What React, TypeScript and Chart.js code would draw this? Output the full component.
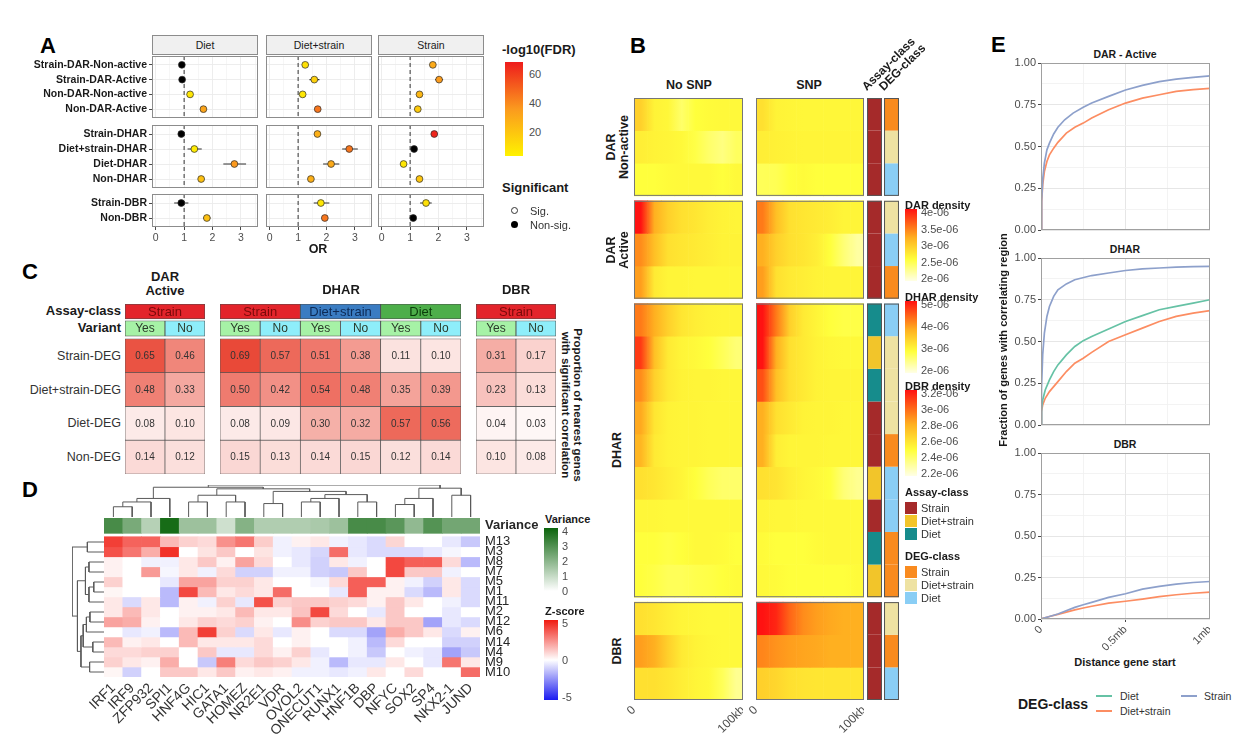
import React, { useEffect, useRef } from 'react';
import { Chart, registerables } from 'chart.js';

Chart.register(...registerables);
const FONT = '"Liberation Sans", Arial, Helvetica, sans-serif';
Chart.defaults.font.family = FONT;
Chart.defaults.color = '#4D4D4D';

/* ============================ DATA ============================ */
// ---- Panel A : odds ratios (rows: DAR group, DHAR group, DBR group) ----
const A_FACETS = ['Diet', 'Diet+strain', 'Strain'];
const A_ROWS_DAR = ['Strain-DAR-Non-active', 'Strain-DAR-Active', 'Non-DAR-Non-active', 'Non-DAR-Active'];
const A_ROWS_DHAR = ['Strain-DHAR', 'Diet+strain-DHAR', 'Diet-DHAR', 'Non-DHAR'];
const A_ROWS_DBR = ['Strain-DBR', 'Non-DBR'];
const A_X_GRID = [0, 0.5, 1, 1.5, 2, 2.5, 3, 3.5];
const A_OR_DIET = [0.92, 0.93, 1.21, 1.68, 0.9, 1.36, 2.77, 1.6, 0.9, 1.8];
const A_LO_DIET = [0.86, 0.84, 1.13, 1.59, 0.85, 1.12, 2.38, 1.52, 0.65, 1.68];
const A_HI_DIET = [0.98, 1.03, 1.29, 1.77, 0.96, 1.62, 3.18, 1.68, 1.15, 1.93];
const A_FDR_DIET = [0.6, 0.5, 8, 32, 0.6, 6, 36, 22, 0.2, 22];
const A_SIG_DIET = [0, 0, 1, 1, 0, 1, 1, 1, 0, 1];
const A_OR_DS = [1.25, 1.57, 1.16, 1.69, 1.68, 2.8, 2.16, 1.45, 1.8, 1.94];
const A_LO_DS = [1.18, 1.4, 1.1, 1.62, 1.58, 2.55, 1.88, 1.38, 1.55, 1.84];
const A_HI_DS = [1.32, 1.75, 1.22, 1.76, 1.78, 3.1, 2.45, 1.52, 2.1, 2.04];
const A_FDR_DS = [10, 16, 8, 45, 28, 45, 30, 28, 8, 45];
const A_SIG_DS = [1, 1, 1, 1, 1, 1, 1, 1, 1, 1];
const A_OR_STRAIN = [1.8, 2.02, 1.33, 1.27, 1.85, 1.14, 0.77, 1.33, 1.56, 1.11];
const A_LO_STRAIN = [1.72, 1.88, 1.25, 1.2, 1.78, 1.08, 0.7, 1.25, 1.35, 1.06];
const A_HI_STRAIN = [1.88, 2.16, 1.41, 1.34, 1.92, 1.2, 0.84, 1.41, 1.76, 1.16];
const A_FDR_STRAIN = [30, 35, 25, 18, 66, 0.5, 8, 20, 10, 0.5];
const A_SIG_STRAIN = [1, 1, 1, 1, 1, 0, 1, 1, 1, 0];
const A_LEGEND_TICKS = [60, 40, 20];

// ---- Panel B : density heatmaps (8 distance bins per row, 0..1 scaled density) ----
const B_BLOCKS = ['DAR\nNon-active', 'DAR\nActive', 'DHAR', 'DBR'];
const B_BLOCK_ROWS = [3, 3, 9, 3];
const B_BINS = ['b1', 'b2', 'b3', 'b4', 'b5', 'b6', 'b7', 'b8'];
const B_X_TICKS = [0, 100];
const B_X_LABELS = ['0', '100kb'];
const B_NOSNP = [
  [0.5, 0.36, 0.34, 0.22, 0.3, 0.32, 0.33, 0.33],
  [0.38, 0.36, 0.35, 0.33, 0.28, 0.22, 0.18, 0.24],
  [0.3, 0.3, 0.32, 0.33, 0.33, 0.33, 0.3, 0.33],
  [1.0, 0.6, 0.5, 0.45, 0.42, 0.38, 0.36, 0.35],
  [0.7, 0.55, 0.45, 0.42, 0.4, 0.38, 0.36, 0.36],
  [0.65, 0.4, 0.35, 0.35, 0.34, 0.34, 0.34, 0.34],
  [0.75, 0.6, 0.5, 0.42, 0.38, 0.36, 0.35, 0.35],
  [0.9, 0.55, 0.4, 0.35, 0.33, 0.3, 0.25, 0.2],
  [0.7, 0.5, 0.4, 0.36, 0.35, 0.35, 0.34, 0.34],
  [0.62, 0.42, 0.36, 0.35, 0.35, 0.34, 0.34, 0.34],
  [0.58, 0.4, 0.36, 0.35, 0.35, 0.34, 0.34, 0.34],
  [0.45, 0.42, 0.38, 0.35, 0.3, 0.25, 0.22, 0.22],
  [0.34, 0.34, 0.33, 0.33, 0.33, 0.33, 0.33, 0.33],
  [0.3, 0.3, 0.28, 0.3, 0.33, 0.33, 0.32, 0.3],
  [0.3, 0.28, 0.25, 0.25, 0.27, 0.28, 0.3, 0.32],
  [0.45, 0.42, 0.38, 0.35, 0.34, 0.33, 0.33, 0.33],
  [0.65, 0.6, 0.5, 0.4, 0.36, 0.34, 0.33, 0.33],
  [0.45, 0.45, 0.42, 0.38, 0.35, 0.33, 0.25, 0.15],
];
const B_SNP = [
  [0.45, 0.36, 0.35, 0.34, 0.34, 0.34, 0.34, 0.34],
  [0.38, 0.37, 0.36, 0.35, 0.35, 0.35, 0.35, 0.35],
  [0.25, 0.26, 0.3, 0.32, 0.3, 0.3, 0.3, 0.3],
  [0.75, 0.55, 0.45, 0.42, 0.4, 0.38, 0.35, 0.35],
  [0.6, 0.5, 0.45, 0.42, 0.38, 0.3, 0.2, 0.12],
  [0.65, 0.45, 0.4, 0.38, 0.36, 0.35, 0.35, 0.35],
  [1.0, 0.75, 0.5, 0.4, 0.35, 0.3, 0.28, 0.28],
  [1.0, 0.6, 0.45, 0.4, 0.36, 0.34, 0.33, 0.33],
  [0.85, 0.55, 0.45, 0.4, 0.36, 0.35, 0.35, 0.35],
  [0.6, 0.45, 0.4, 0.36, 0.35, 0.35, 0.34, 0.34],
  [0.6, 0.38, 0.35, 0.35, 0.35, 0.34, 0.34, 0.34],
  [0.45, 0.43, 0.38, 0.35, 0.33, 0.3, 0.2, 0.15],
  [0.35, 0.34, 0.34, 0.33, 0.33, 0.33, 0.33, 0.33],
  [0.32, 0.3, 0.3, 0.3, 0.32, 0.33, 0.33, 0.33],
  [0.33, 0.32, 0.3, 0.3, 0.3, 0.3, 0.3, 0.32],
  [1.0, 0.95, 0.8, 0.7, 0.65, 0.62, 0.6, 0.6],
  [0.72, 0.68, 0.65, 0.63, 0.62, 0.6, 0.6, 0.6],
  [0.5, 0.48, 0.45, 0.43, 0.42, 0.42, 0.42, 0.42],
];
const B_ASSAY = ['Strain', 'Strain', 'Strain', 'Strain', 'Strain', 'Strain',
  'Diet', 'Diet+strain', 'Diet', 'Strain', 'Strain', 'Diet+strain', 'Strain', 'Diet', 'Diet+strain',
  'Strain', 'Strain', 'Strain'];
const B_DEG = ['Strain', 'Diet+strain', 'Diet', 'Diet+strain', 'Diet', 'Strain',
  'Diet', 'Diet+strain', 'Diet+strain', 'Diet+strain', 'Strain', 'Diet', 'Diet', 'Strain', 'Strain',
  'Diet+strain', 'Strain', 'Diet'];
const B_ANNO_COLS = ['Assay-class', 'DEG-class'];
const B_LEG_DAR = ['4e-06', '3.5e-06', '3e-06', '2.5e-06', '2e-06'];
const B_LEG_DHAR = ['5e-06', '4e-06', '3e-06', '2e-06'];
const B_LEG_DBR = ['3.2e-06', '3e-06', '2.8e-06', '2.6e-06', '2.4e-06', '2.2e-06'];
const B_CLASSES = ['Strain', 'Diet+strain', 'Diet'];

// ---- Panel C : proportion table ----
const C_ROWS = ['Strain-DEG', 'Diet+strain-DEG', 'Diet-DEG', 'Non-DEG'];
const C_VARIANTS = ['Yes', 'No'];
const C_GROUPS_DAR = ['Strain'];
const C_GROUPS_DHAR = ['Strain', 'Diet+strain', 'Diet'];
const C_GROUPS_DBR = ['Strain'];
const C_DAR = [[0.65, 0.46], [0.48, 0.33], [0.08, 0.1], [0.14, 0.12]];
const C_DHAR = [
  [0.69, 0.57, 0.51, 0.38, 0.11, 0.1],
  [0.5, 0.42, 0.54, 0.48, 0.35, 0.39],
  [0.08, 0.09, 0.3, 0.32, 0.57, 0.56],
  [0.15, 0.13, 0.14, 0.15, 0.12, 0.14],
];
const C_DBR = [[0.31, 0.17], [0.23, 0.13], [0.04, 0.03], [0.1, 0.08]];

// ---- Panel D : z-score heatmap ----
const D_COLS = ['IRF1', 'IRF9', 'ZFP932', 'SPI1', 'HNF4G', 'HIC1', 'GATA1', 'HOMEZ', 'NR2E1', 'VDR',
  'OVOL2', 'ONECUT1', 'RUNX1', 'HNF1B', 'DBP', 'NFYC', 'SOX2', 'SP4', 'NKX2-1', 'JUND'];
const D_ROWS = ['M13', 'M3', 'M8', 'M7', 'M5', 'M1', 'M11', 'M2', 'M12', 'M6', 'M14', 'M4', 'M9', 'M10'];
const D_VAR = [3.0, 2.2, 1.2, 3.8, 1.6, 1.6, 0.8, 2.0, 1.3, 1.3, 1.3, 1.4, 1.6, 3.0, 3.0, 2.7, 1.8, 2.8, 2.3, 2.3];
const D_Z = [
  [4.2, 3.4, 3.4, 1.5, 1.0, 0.8, 2.4, 3.0, 1.1, -0.3, 0.3, 0.5, -0.3, -0.5, -0.8, 0.9, 0.0, 0.0, -0.5, -1.2],
  [3.8, 3.0, 1.8, 4.5, 0.0, 0.6, 1.2, 0.0, 0.6, -0.3, -0.5, -0.9, 3.2, -0.5, -0.8, -0.8, -0.8, -0.5, -0.2, 0.0],
  [0.3, 0.0, -0.3, -0.3, 0.5, 1.2, 0.3, 2.0, 0.8, 0.0, -0.5, -1.0, 0.5, -0.3, 0.0, 4.0, 3.5, 3.5, 0.8, -1.5],
  [0.3, 0.0, 2.2, -0.2, 0.5, -0.3, 0.8, -1.0, -1.0, -0.3, -0.3, -1.0, -1.2, 1.2, 0.0, 4.0, 1.2, 1.2, -0.3, 0.0],
  [1.0, 0.0, 0.0, -0.5, 2.0, 2.0, 1.0, 1.0, 0.5, 0.0, 0.0, -0.2, 0.8, 3.5, 3.5, 0.3, -0.3, -1.0, 0.5, -0.8],
  [0.2, 0.0, 0.0, -1.5, 4.0, 1.5, 0.5, 0.8, 0.5, 3.2, 0.0, 0.0, -0.5, 3.5, 0.3, 0.3, -0.8, -1.5, 0.5, -0.8],
  [0.5, -0.8, 0.5, -1.5, 0.3, -0.3, 1.0, -0.5, 3.8, 1.0, 1.2, 1.2, 1.0, 0.8, 0.3, 1.2, 0.5, 0.0, -0.3, -0.8],
  [0.5, 1.5, 0.5, 0.0, 0.3, 0.3, 0.5, 1.5, 0.5, 0.5, 1.3, 4.0, 0.8, 0.0, -0.5, 1.2, 0.0, 0.0, -0.5, 0.0],
  [2.0, 1.8, 0.3, 0.0, 0.5, 1.0, 0.8, 1.0, 0.3, 0.0, 2.5, 1.0, 1.2, 1.2, 0.5, 1.2, 1.2, -2.0, -0.5, -0.8],
  [0.0, -0.5, -0.3, -1.5, 1.5, 4.2, 1.0, -0.8, 0.5, -0.5, 0.3, 0.0, -0.8, -0.8, -2.0, 1.8, 1.2, 0.5, -0.8, 0.3],
  [1.5, 0.3, 0.5, 0.0, 1.5, 0.5, 0.5, 0.5, 0.8, 0.0, 0.3, 0.0, 0.0, -0.3, -1.5, 0.8, 0.0, 0.0, -1.0, -1.0],
  [0.8, 0.8, 1.0, 1.0, 0.0, 1.2, -0.5, -0.5, 0.8, 0.3, 1.0, -0.5, 0.0, -0.3, -1.2, 0.0, -0.3, -0.5, -2.0, -1.2],
  [1.0, 0.5, 0.3, 1.8, 0.0, -1.2, 2.8, 0.8, 1.2, 1.0, 0.5, -0.3, -1.5, -0.5, -0.5, 0.5, 0.0, -0.5, 3.0, 0.5],
  [0.2, -1.0, 0.0, 1.2, 1.2, 0.5, 1.2, 0.3, 0.5, 0.3, -0.3, -0.3, -0.5, -0.3, 0.5, 0.0, 0.8, 0.0, 0.0, 3.2],
];
// dendrograms: [childA, childB, height]; leaves 0..n-1, merged nodes numbered n, n+1, ...
const D_COL_TREE = [
  [0, 1, 3.2], [20, 2, 4.7], [21, 3, 5.8], [4, 5, 4.7], [6, 7, 4.7], [23, 24, 6.8], [8, 9, 4.2],
  [10, 11, 4.7], [27, 12, 5.8], [13, 14, 4.7], [28, 29, 7.0], [26, 30, 8.0], [25, 31, 8.8],
  [15, 16, 3.9], [33, 17, 5.8], [18, 19, 6.8], [34, 35, 9.0], [22, 32, 9.3], [37, 36, 10],
];
const D_ROW_TREE = [
  [0, 1, 5.2], [2, 3, 4.7], [4, 5, 3.2], [16, 6, 4.7], [15, 17, 5.8], [7, 8, 4.4], [19, 9, 5.5],
  [10, 11, 3.5], [20, 21, 6.5], [12, 13, 4.5], [22, 23, 7.2], [18, 24, 8.3], [14, 25, 10],
];
const D_VAR_TICKS = ['4', '3', '2', '1', '0'];
const D_Z_TICKS = ['5', '0', '-5'];

// ---- Panel E : cumulative fraction of genes vs distance (mb) ----
const E_DAR_STRAIN = [[0, 0], [0.004, 0.18], [0.01, 0.3], [0.02, 0.4], [0.035, 0.48], [0.05, 0.52], [0.075, 0.575], [0.1, 0.615], [0.14, 0.66], [0.19, 0.7], [0.25, 0.735], [0.3, 0.76], [0.4, 0.8], [0.5, 0.838], [0.6, 0.866], [0.7, 0.888], [0.8, 0.903], [0.9, 0.914], [1, 0.923]];
const E_DAR_DS = [[0, 0], [0.004, 0.17], [0.01, 0.27], [0.02, 0.35], [0.035, 0.41], [0.05, 0.45], [0.075, 0.49], [0.1, 0.525], [0.15, 0.58], [0.2, 0.615], [0.25, 0.64], [0.3, 0.67], [0.4, 0.72], [0.5, 0.76], [0.6, 0.79], [0.7, 0.81], [0.8, 0.83], [0.9, 0.84], [1, 0.848]];
const E_DHAR_STRAIN = [[0, 0], [0.003, 0.22], [0.01, 0.42], [0.02, 0.55], [0.035, 0.65], [0.05, 0.71], [0.075, 0.77], [0.1, 0.81], [0.15, 0.845], [0.2, 0.87], [0.3, 0.895], [0.4, 0.91], [0.5, 0.925], [0.6, 0.935], [0.7, 0.94], [0.8, 0.945], [0.9, 0.948], [1, 0.95]];
const E_DHAR_DIET = [[0, 0], [0.003, 0.1], [0.01, 0.15], [0.025, 0.21], [0.05, 0.27], [0.075, 0.32], [0.1, 0.36], [0.15, 0.42], [0.2, 0.47], [0.25, 0.505], [0.3, 0.53], [0.4, 0.575], [0.5, 0.62], [0.6, 0.655], [0.7, 0.69], [0.8, 0.71], [0.9, 0.73], [1, 0.75]];
const E_DHAR_DS = [[0, 0], [0.003, 0.08], [0.01, 0.12], [0.025, 0.16], [0.05, 0.2], [0.1, 0.26], [0.15, 0.32], [0.2, 0.37], [0.25, 0.4], [0.3, 0.435], [0.4, 0.5], [0.5, 0.54], [0.6, 0.58], [0.7, 0.62], [0.8, 0.65], [0.9, 0.67], [1, 0.685]];
const E_DBR_STRAIN = [[0, 0], [0.05, 0.015], [0.1, 0.03], [0.2, 0.07], [0.25, 0.086], [0.3, 0.1], [0.4, 0.13], [0.5, 0.152], [0.6, 0.18], [0.7, 0.196], [0.8, 0.21], [0.9, 0.22], [1, 0.226]];
const E_DBR_DS = [[0, 0], [0.05, 0.015], [0.1, 0.028], [0.2, 0.055], [0.25, 0.066], [0.3, 0.077], [0.4, 0.096], [0.5, 0.107], [0.6, 0.12], [0.7, 0.135], [0.8, 0.146], [0.9, 0.155], [1, 0.162]];
const E_TITLES = ['DAR - Active', 'DHAR', 'DBR'];
const E_X_GRID = [0, 0.25, 0.5, 0.75, 1];
const E_X_LABELS = ['0', '', '0.5mb', '', '1mb'];
const E_Y_GRID = [0, 0.125, 0.25, 0.375, 0.5, 0.625, 0.75, 0.875, 1];

/* ============================ STYLE ============================ */
const clamp = (t: number) => Math.max(0, Math.min(1, t));
const hex = (h: string) => [parseInt(h.slice(1, 3), 16), parseInt(h.slice(3, 5), 16), parseInt(h.slice(5, 7), 16)];
function ramp(stops: any[], t: number) {
  t = clamp(t);
  for (let i = 1; i < stops.length; i++) {
    if (t <= stops[i][0]) {
      const [t0, c0] = stops[i - 1];
      const [t1, c1] = stops[i];
      const f = (t - t0) / (t1 - t0 || 1);
      const a = hex(c0), b = hex(c1);
      return `rgb(${a.map((v, k) => Math.round(v + (b[k] - v) * f)).join(',')})`;
    }
  }
  return stops[stops.length - 1][1];
}
const FDR_STOPS = [[0, '#FFF200'], [0.5, '#FB9A1E'], [1, '#EE1C1C']];
const fdrColor = (v: number) => ramp(FDR_STOPS, (v - 3.4) / (68.3 - 3.4));
const heatRed = (v: number) => ramp([[0, '#FFFFFF'], [1, '#E8412F']], v / 0.72);
const zColor = (z: number) => (z >= 0 ? ramp([[0, '#FFFFFF'], [1, '#F01A10']], z / 5) : ramp([[0, '#FFFFFF'], [1, '#1A1AF0']], -z / 5));
const varColor = (v: number) => ramp([[0, '#FFFFFF'], [1, '#0B640B']], v / 4);
const DENS_STOPS = [[0, '#FFFFE6'], [0.3, '#FFFF3C'], [0.45, '#FFE030'], [0.6, '#FFB020'], [0.75, '#FF7A18'], [0.9, '#FF3A14'], [1, '#FF1212']];
const densColor = (v: number) => ramp(DENS_STOPS, v);
const ASSAY_COLORS: any = { Strain: '#A52A2A', 'Diet+strain': '#F2C52A', Diet: '#168C8C' };
const DEG_COLORS: any = { Strain: '#F98B1F', 'Diet+strain': '#EEE2A2', Diet: '#8ACEF5' };
const C_GROUP_COLORS: any = { Strain: '#E3242B', 'Diet+strain': '#3A7CC2', Diet: '#4DAE4A' };
const C_GROUP_TEXT: any = { Strain: '#7A0A0A', 'Diet+strain': '#0D2A55', Diet: '#0B3D0B' };
const C_VARIANT_COLORS: any = { Yes: '#A6F2A6', No: '#8EEEFA' };
const E_COLORS: any = { Diet: '#66C2A5', 'Diet+strain': '#FC8D62', Strain: '#8DA0CB' };

/* ============================ PLUGINS ============================ */
const framePlugin = {
  id: 'frame',
  afterDraw(chart: any, _a: any, opts: any) {
    if (!opts || !opts.color) return;
    const { ctx, chartArea: a } = chart;
    ctx.save();
    ctx.strokeStyle = opts.color;
    ctx.lineWidth = opts.width || 1;
    ctx.strokeRect(a.left + 0.5, a.top + 0.5, a.right - a.left - 1, a.bottom - a.top - 1);
    ctx.restore();
  },
};
const cellTextPlugin = {
  id: 'cellText',
  afterDatasetsDraw(chart: any) {
    const { ctx } = chart;
    chart.data.datasets.forEach((ds: any, i: number) => {
      if (!ds.cellText) return;
      const meta = chart.getDatasetMeta(i);
      ctx.save();
      ctx.font = ds.cellFont;
      ctx.textAlign = 'center';
      ctx.textBaseline = 'middle';
      meta.data.forEach((el: any, j: number) => {
        const t = ds.cellText[j];
        if (!t) return;
        ctx.fillStyle = Array.isArray(ds.cellColor) ? ds.cellColor[j] : ds.cellColor;
        ctx.fillText(t, el.x, (el.y + el.base) / 2 + 0.5);
      });
      ctx.restore();
    });
  },
};
const blockFramePlugin = {
  id: 'blockFrame',
  afterDatasetsDraw(chart: any, _a: any, opts: any) {
    if (!opts || !opts.blocks) return;
    const { ctx, chartArea: a, scales } = chart;
    const y = scales.y;
    const cols = opts.perColumn
      ? chart.getDatasetMeta(0).data.map((el: any) => [el.x - el.width / 2, el.x + el.width / 2])
      : [[a.left, a.right]];
    ctx.save();
    ctx.strokeStyle = opts.color;
    ctx.lineWidth = 1;
    opts.blocks.forEach(([s, e]: number[]) => {
      const t = y.getPixelForValue(s), b = y.getPixelForValue(e);
      cols.forEach(([l, r]: number[]) => ctx.strokeRect(l + 0.5, Math.min(t, b) + 0.5, r - l - 1, Math.abs(b - t) - 1));
    });
    ctx.restore();
  },
};

/* ============================ HELPERS ============================ */
// fixes the size of an axis box and removes the label overhang padding
const fixAxis = (size: number) => (s: any) => {
  if (s.isHorizontal()) s.height = size; else s.width = size;
  s.paddingLeft = 0; s.paddingRight = 0; s.paddingTop = 0; s.paddingBottom = 0;
};

function ChartBox({ x, y, w, h, cfg }: any) {
  const ref = useRef<HTMLCanvasElement | null>(null);
  useEffect(() => {
    const c = cfg();
    const o = c.options || {};
    c.options = {
      ...o,
      responsive: false,
      animation: false,
      devicePixelRatio: 1,
      events: [],
      layout: { autoPadding: false, padding: 0, ...(o.layout || {}) },
      plugins: { legend: { display: false }, tooltip: { enabled: false }, ...(o.plugins || {}) },
    };
    const chart = new Chart(ref.current as HTMLCanvasElement, c);
    return () => chart.destroy();
  }, []);
  return <canvas ref={ref} width={w} height={h} style={{ position: 'absolute', left: x, top: y, width: w, height: h }} />;
}

function Txt({ x, y, s, size = 11, bold = false, color = '#1A1A1A', align = 'left', rot = 0, lh = 1.15 }: any) {
  const tx = align === 'left' ? '0' : align === 'center' ? '-50%' : '-100%';
  return (
    <div style={{ position: 'absolute', left: x, top: y, width: 0, height: 0, transform: rot ? `rotate(${rot}deg)` : undefined, transformOrigin: '0 0' }}>
      <div style={{ position: 'absolute', left: 0, top: 0, transform: `translate(${tx}, -50%)`, whiteSpace: 'pre', fontFamily: FONT, fontSize: size, fontWeight: bold ? 700 : 400, color, lineHeight: lh, textAlign: align }}>{s}</div>
    </div>
  );
}
function Box({ x, y, w, h, bg, border }: any) {
  return <div style={{ position: 'absolute', left: x, top: y, width: w, height: h, background: bg, border, boxSizing: 'border-box' }} />;
}
const isMult = (v: number, step: number) => Math.abs(v / step - Math.round(v / step)) < 1e-6;

/* ============================ PANEL A ============================ */
const A_ROW_GROUPS = [A_ROWS_DAR, A_ROWS_DHAR, A_ROWS_DBR];
const A_SERIES = [
  { or: A_OR_DIET, lo: A_LO_DIET, hi: A_HI_DIET, fdr: A_FDR_DIET, sig: A_SIG_DIET },
  { or: A_OR_DS, lo: A_LO_DS, hi: A_HI_DS, fdr: A_FDR_DS, sig: A_SIG_DS },
  { or: A_OR_STRAIN, lo: A_LO_STRAIN, hi: A_HI_STRAIN, fdr: A_FDR_STRAIN, sig: A_SIG_STRAIN },
];
const A_FACET_LEFT = [152, 266, 378];
const A_GROUP_Y = [[56, 118], [125, 188], [194, 227]];
const A_YAXIS_W = 152;

function forestCfg(fi: number, gi: number) {
  const rows = A_ROW_GROUPS[gi];
  const off = A_ROW_GROUPS.slice(0, gi).reduce((s, r) => s + r.length, 0);
  const S = A_SERIES[fi];
  const n = rows.length;
  const showY = fi === 0, showX = gi === 2;
  const idx = rows.map((_, k) => off + k);
  const pts = idx.map((i, k) => ({ x: S.or[i], y: k }));
  const fill = idx.map((i) => (S.sig[i] ? fdrColor(S.fdr[i]) : '#000000'));
  const err: any[] = [];
  idx.forEach((i, k) => err.push({ x: S.lo[i], y: k }, { x: S.hi[i], y: k }, { x: S.hi[i], y: null }));
  return {
    type: 'scatter',
    data: {
      datasets: [
        { type: 'scatter', data: pts, pointRadius: 3.4, pointBackgroundColor: fill, pointBorderColor: '#2B2B2B', pointBorderWidth: 0.7, order: 0 },
        { type: 'line', data: err, borderColor: '#333333', borderWidth: 1.2, pointRadius: 0, spanGaps: false, order: 1 },
        { type: 'line', data: [{ x: 1, y: -0.6 }, { x: 1, y: n - 0.4 }], borderColor: '#333333', borderWidth: 1, borderDash: [4, 3], pointRadius: 0, order: 2 },
      ],
    },
    options: {
      scales: {
        x: {
          type: 'linear', min: -0.13, max: 3.6, offset: false,
          afterBuildTicks: (s: any) => { s.ticks = A_X_GRID.map((v) => ({ value: v })); },
          ticks: { display: showX, autoSkip: false, maxRotation: 0, padding: 2, font: { size: 10.5 }, color: '#4D4D4D', callback: (v: number) => (isMult(v, 1) ? String(v) : '') },
          grid: {
            color: (c: any) => (c.tick && isMult(c.tick.value, 1) ? '#EBEBEB' : '#F5F5F5'),
            lineWidth: 0.9, drawTicks: showX, tickLength: 3,
            tickColor: (c: any) => (c.tick && isMult(c.tick.value, 1) ? '#333333' : 'rgba(0,0,0,0)'),
          },
          border: { display: false },
          afterFit: fixAxis(showX ? 17 : 0),
        },
        y: {
          type: 'linear', reverse: true, min: -0.6, max: n - 0.4,
          afterBuildTicks: (s: any) => { s.ticks = rows.map((_, k) => ({ value: k })); },
          ticks: { display: showY, autoSkip: false, padding: 2, font: { size: 10.5, weight: 'bold' }, color: '#1A1A1A', callback: (v: number) => rows[Math.round(v)] || '' },
          grid: { color: '#EBEBEB', lineWidth: 0.9, drawTicks: showY, tickLength: 3, tickColor: '#333333' },
          border: { display: false },
          afterFit: fixAxis(showY ? A_YAXIS_W : 0),
        },
      },
      plugins: { frame: { color: '#8C8C8C', width: 1 } },
    },
    plugins: [framePlugin],
  };
}

function PanelA() {
  const charts: any[] = [];
  A_FACETS.forEach((f, fi) => {
    A_ROW_GROUPS.forEach((_, gi) => {
      const showY = fi === 0, showX = gi === 2;
      const [y0, y1] = A_GROUP_Y[gi];
      charts.push(
        <ChartBox key={`a${fi}${gi}`} x={A_FACET_LEFT[fi] - (showY ? A_YAXIS_W : 0)} y={y0}
          w={106 + (showY ? A_YAXIS_W : 0)} h={y1 - y0 + (showX ? 17 : 0)} cfg={() => forestCfg(fi, gi)} />,
      );
    });
  });
  return (
    <>
      <Txt x={40} y={46} s="A" size={22} bold color="#000" />
      {A_FACETS.map((f, fi) => (
        <React.Fragment key={f}>
          <Box x={A_FACET_LEFT[fi]} y={35} w={106} h={20} bg="#F0F0F0" border="1px solid #8C8C8C" />
          <Txt x={A_FACET_LEFT[fi] + 53} y={45} s={f} size={10.5} align="center" />
        </React.Fragment>
      ))}
      {charts}
      <Txt x={318} y={249} s="OR" size={12.5} bold align="center" />
      <Txt x={502} y={50} s="-log10(FDR)" size={13} bold />
      <Box x={505} y={62} w={18} h={94} bg="linear-gradient(to top, #FFF200, #FB9A1E 50%, #EE1C1C)" />
      {A_LEGEND_TICKS.map((t) => (
        <Txt key={t} x={529} y={156 - ((t - 3.4) / (68.3 - 3.4)) * 94} s={String(t)} size={11} color="#4D4D4D" />
      ))}
      <Txt x={502} y={188} s="Significant" size={13} bold />
      <div style={{ position: 'absolute', left: 511, top: 207, width: 7, height: 7, borderRadius: 4, border: '1px solid #333', background: '#fff', boxSizing: 'border-box' }} />
      <Txt x={530} y={211} s="Sig." size={11} color="#333" />
      <div style={{ position: 'absolute', left: 511, top: 221, width: 7, height: 7, borderRadius: 4, background: '#000' }} />
      <Txt x={530} y={225} s="Non-sig." size={11} color="#333" />
    </>
  );
}

/* ============================ PANEL B ============================ */
const B_GAP = 0.15;
const B_TOTAL = B_BLOCK_ROWS.reduce((s, r) => s + r, 0) + (B_BLOCK_ROWS.length - 1) * B_GAP;
const B_TOP = 98, B_H = 602;
function bBlockOf(r: number) {
  let acc = 0;
  for (let b = 0; b < B_BLOCK_ROWS.length; b++) { acc += B_BLOCK_ROWS[b]; if (r < acc) return b; }
  return B_BLOCK_ROWS.length - 1;
}
const bRowStart = (r: number) => r + bBlockOf(r) * B_GAP;
function bBlockRanges() {
  let acc = 0;
  return B_BLOCK_ROWS.map((n, b) => { const s = acc + b * B_GAP; acc += n; return [s, s + n]; });
}
const bYScale = { type: 'linear', display: false, reverse: true, min: 0, max: B_TOTAL };
// horizontal colour gradient through the bin centres of one row (positions from the x scale)
function rowGradient(chart: any, row: number[]) {
  const { chartArea, scales } = chart;
  if (!chartArea || !scales.x) return densColor(row[0]);
  const l = chartArea.left, r = chartArea.right;
  const g = chart.ctx.createLinearGradient(l, 0, r, 0);
  row.forEach((v, i) => g.addColorStop(clamp((scales.x.getPixelForValue(i) - l) / (r - l)), densColor(v)));
  return g;
}

function bHeatCfg(vals: number[][]) {
  const datasets = vals.map((row, r) => {
    const y0 = bRowStart(r);
    return { data: row.map(() => [y0, y0 + 1]), backgroundColor: (c: any) => rowGradient(c.chart, row) };
  });
  return {
    type: 'bar',
    data: { labels: B_BINS, datasets },
    options: {
      layout: { padding: { left: 14, right: 0, top: 0, bottom: 0 } },
      datasets: { bar: { grouped: false, barPercentage: 1, categoryPercentage: 1, borderWidth: 0 } },
      scales: {
        x: { type: 'category', display: false, offset: true },
        xk: {
          type: 'linear', position: 'bottom', min: 0, max: 100, offset: false,
          afterBuildTicks: (s: any) => { s.ticks = B_X_TICKS.map((v) => ({ value: v })); },
          grid: { display: false, drawTicks: false, offset: false }, border: { display: false },
          ticks: { autoSkip: false, minRotation: 45, maxRotation: 45, padding: 3, font: { size: 12 }, color: '#4D4D4D', callback: (v: number) => B_X_LABELS[B_X_TICKS.indexOf(v)] || '' },
          afterFit: fixAxis(40),
        },
        y: bYScale,
      },
      plugins: { blockFrame: { blocks: bBlockRanges(), color: '#767676' } },
    },
    plugins: [blockFramePlugin],
  };
}
function bAnnoCfg() {
  const datasets = B_ASSAY.map((a, r) => {
    const y0 = bRowStart(r);
    return { data: [[y0, y0 + 1], [y0, y0 + 1]], backgroundColor: [ASSAY_COLORS[a], DEG_COLORS[B_DEG[r]]] };
  });
  return {
    type: 'bar',
    data: { labels: B_ANNO_COLS, datasets },
    options: {
      layout: { padding: { left: 8, right: 45, top: 0, bottom: 0 } },
      datasets: { bar: { grouped: false, barPercentage: 0.88, categoryPercentage: 1, borderWidth: 0 } },
      scales: {
        x: {
          type: 'category', position: 'top', offset: true, grid: { display: false, drawTicks: false }, border: { display: false },
          ticks: { autoSkip: false, minRotation: 45, maxRotation: 45, padding: 4, font: { size: 12, weight: 'bold' }, color: '#1A1A1A' },
          afterFit: fixAxis(68),
        },
        y: bYScale,
      },
      plugins: { blockFrame: { blocks: bBlockRanges(), color: '#555555', perColumn: true } },
    },
    plugins: [blockFramePlugin],
  };
}
function GradLegend({ x, y, title, labels, h }: any) {
  const step = (h - 6) / (labels.length - 1);
  return (
    <>
      <Txt x={x} y={y} s={title} size={11} bold />
      <Box x={x} y={y + 4} w={12} h={h} bg="linear-gradient(to top, #FFFFE6, #FFFF3C 30%, #FFB020 60%, #FF3A14 90%, #FF1212)" />
      {labels.map((l: string, i: number) => <Txt key={l} x={x + 16} y={y + 7 + i * step} s={l} size={11} color="#4D4D4D" />)}
    </>
  );
}
function PanelB() {
  const unit = B_H / B_TOTAL;
  const ranges = bBlockRanges();
  return (
    <>
      <Txt x={630} y={46} s="B" size={22} bold color="#000" />
      <Txt x={689} y={85} s="No SNP" size={12.5} bold align="center" />
      <Txt x={809} y={85} s="SNP" size={12.5} bold align="center" />
      {B_BLOCKS.map((b, i) => (
        <Txt key={b} x={618} y={B_TOP + ((ranges[i][0] + ranges[i][1]) / 2) * unit} s={b} size={12.5} bold align="center" rot={-90} lh={1.05} />
      ))}
      <ChartBox x={620} y={B_TOP} w={123} h={B_H + 40} cfg={() => bHeatCfg(B_NOSNP)} />
      <ChartBox x={742} y={B_TOP} w={122} h={B_H + 40} cfg={() => bHeatCfg(B_SNP)} />
      <ChartBox x={858} y={30} w={87} h={68 + B_H} cfg={bAnnoCfg} />
      <GradLegend x={905} y={205} title="DAR density" labels={B_LEG_DAR} h={72} />
      <GradLegend x={905} y={297} title="DHAR density" labels={B_LEG_DHAR} h={72} />
      <GradLegend x={905} y={386} title="DBR density" labels={B_LEG_DBR} h={86} />
      <Txt x={905} y={492} s="Assay-class" size={11} bold />
      {B_CLASSES.map((c, i) => (
        <React.Fragment key={'as' + c}>
          <Box x={905} y={502 + i * 13} w={12} h={12} bg={ASSAY_COLORS[c]} />
          <Txt x={921} y={508 + i * 13} s={c} size={11} color="#333" />
        </React.Fragment>
      ))}
      <Txt x={905} y={556} s="DEG-class" size={11} bold />
      {B_CLASSES.map((c, i) => (
        <React.Fragment key={'dg' + c}>
          <Box x={905} y={566 + i * 13} w={12} h={12} bg={DEG_COLORS[c]} />
          <Txt x={921} y={572 + i * 13} s={c} size={11} color="#333" />
        </React.Fragment>
      ))}
    </>
  );
}

/* ============================ PANEL C ============================ */
const C_Y_ASSAY = [-1.03, -0.585];
const C_Y_VARIANT = [-0.535, -0.08];
function cBlockCfg(groups: string[], vals: number[][]) {
  const nc = groups.length * C_VARIANTS.length;
  const labels = Array.from({ length: nc }, (_, i) => `${groups[Math.floor(i / 2)]} ${C_VARIANTS[i % 2]}`);
  const variants = labels.map((_, i) => C_VARIANTS[i % 2]);
  const datasets: any[] = [
    {
      xAxisID: 'xg', data: groups.map(() => C_Y_ASSAY), backgroundColor: groups.map((g) => C_GROUP_COLORS[g]),
      borderColor: '#4D4D4D', borderWidth: 0.8, cellText: groups, cellFont: `13px ${FONT}`, cellColor: groups.map((g) => C_GROUP_TEXT[g]),
    },
    {
      data: variants.map(() => C_Y_VARIANT), backgroundColor: variants.map((v) => C_VARIANT_COLORS[v]),
      borderColor: '#4D4D4D', borderWidth: 0.8, cellText: variants, cellFont: `12px ${FONT}`, cellColor: '#2B3B2B',
    },
    ...vals.map((row, r) => ({
      data: row.map(() => [r, r + 1]), backgroundColor: row.map(heatRed), borderColor: '#555555', borderWidth: 0.7,
      cellText: row.map((v) => v.toFixed(2)), cellFont: `10px ${FONT}`, cellColor: '#333333',
    })),
  ];
  return {
    type: 'bar',
    data: { labels, datasets },
    options: {
      datasets: { bar: { grouped: false, barPercentage: 1, categoryPercentage: 1, borderSkipped: false } },
      scales: {
        x: { type: 'category', display: false, offset: true },
        xg: { type: 'category', labels: groups, display: false, offset: true },
        y: { type: 'linear', display: false, reverse: true, min: C_Y_ASSAY[0], max: vals.length },
      },
    },
    plugins: [cellTextPlugin],
  };
}
function PanelC() {
  const rowH = 170 / (4 - C_Y_ASSAY[0]);
  const bodyTop = 304 - C_Y_ASSAY[0] * rowH;
  return (
    <>
      <Txt x={22} y={272} s="C" size={22} bold color="#000" />
      <Txt x={165} y={284} s={'DAR\nActive'} size={13} bold align="center" lh={1.08} />
      <Txt x={341} y={290} s="DHAR" size={13} bold align="center" />
      <Txt x={516} y={290} s="DBR" size={13} bold align="center" />
      <Txt x={121} y={311} s="Assay-class" size={13} bold align="right" />
      <Txt x={121} y={328} s="Variant" size={13} bold align="right" />
      {C_ROWS.map((r, i) => <Txt key={r} x={121} y={bodyTop + (i + 0.5) * rowH} s={r} size={12.5} color="#333" align="right" />)}
      <ChartBox x={125} y={304} w={80} h={170} cfg={() => cBlockCfg(C_GROUPS_DAR, C_DAR)} />
      <ChartBox x={220} y={304} w={241} h={170} cfg={() => cBlockCfg(C_GROUPS_DHAR, C_DHAR)} />
      <ChartBox x={476} y={304} w={80} h={170} cfg={() => cBlockCfg(C_GROUPS_DBR, C_DBR)} />
      <Txt x={577} y={405} s="Proportion of nearest genes" size={11.5} bold align="center" rot={90} />
      <Txt x={565} y={405} s="with significant correlation" size={11.5} bold align="center" rot={90} />
    </>
  );
}

/* ============================ PANEL D ============================ */
const D_VAR_Y = [-1.87, -0.34];
const D_PAD_LEFT = 34;
function dendroPoints(n: number, merges: number[][], vertical: boolean) {
  const pos: number[] = [], ht: number[] = [];
  for (let i = 0; i < n; i++) { pos[i] = i; ht[i] = 0; }
  const pts: any[] = [];
  merges.forEach(([a, b, h], k) => {
    const id = n + k;
    pos[id] = (pos[a] + pos[b]) / 2;
    ht[id] = h;
    const seg = [[pos[a], ht[a]], [pos[a], h], [pos[b], h], [pos[b], ht[b]]];
    seg.forEach(([p, q]) => pts.push(vertical ? { x: p, y: q } : { x: q, y: p }));
    pts.push({ x: vertical ? pos[b] : ht[b], y: null });
  });
  return pts;
}
function dendroCfg(vertical: boolean) {
  const n = vertical ? D_COLS.length : D_ROWS.length;
  const pts = dendroPoints(n, vertical ? D_COL_TREE : D_ROW_TREE, vertical);
  const posScale = { type: 'linear', display: false, min: -0.5, max: n - 0.5, reverse: !vertical };
  const hScale = { type: 'linear', display: false, min: 0, max: 10, reverse: !vertical };
  return {
    type: 'line',
    data: { datasets: [{ data: pts, borderColor: '#5A5A5A', borderWidth: 1, pointRadius: 0, spanGaps: false, tension: 0 }] },
    options: { scales: vertical ? { x: posScale, y: hScale } : { x: hScale, y: posScale } },
  };
}
function dHeatCfg() {
  const datasets: any[] = [{ data: D_VAR.map(() => D_VAR_Y), backgroundColor: D_VAR.map(varColor) }];
  D_Z.forEach((row, r) => datasets.push({ data: row.map(() => [r, r + 1]), backgroundColor: row.map(zColor) }));
  return {
    type: 'bar',
    data: { labels: D_COLS, datasets },
    options: {
      layout: { padding: { left: D_PAD_LEFT, right: 0, top: 0, bottom: 0 } },
      datasets: { bar: { grouped: false, barPercentage: 1, categoryPercentage: 1, borderWidth: 0 } },
      scales: {
        x: {
          type: 'category', offset: true, grid: { display: false, drawTicks: false }, border: { display: false },
          ticks: { autoSkip: false, minRotation: 45, maxRotation: 45, padding: 3, font: { size: 14 }, color: '#333333' },
          afterFit: fixAxis(64),
        },
        y: {
          type: 'linear', position: 'right', reverse: true, min: D_VAR_Y[0], max: D_ROWS.length,
          grid: { display: false, drawTicks: false }, border: { display: false },
          afterBuildTicks: (s: any) => { s.ticks = [{ value: (D_VAR_Y[0] + D_VAR_Y[1]) / 2 }, ...D_ROWS.map((_, r) => ({ value: r + 0.5 }))]; },
          ticks: {
            autoSkip: false, padding: 5, color: '#262626',
            font: (c: any) => ({ size: 13, weight: c.tick && c.tick.value < 0 ? 'bold' : 'normal' }),
            callback: (v: number) => (v < 0 ? 'Variance' : D_ROWS[Math.floor(v)]),
          },
          afterFit: fixAxis(62),
        },
      },
    },
  };
}
function PanelD() {
  return (
    <>
      <Txt x={22} y={490} s="D" size={22} bold color="#000" />
      <ChartBox x={104} y={485} w={376} h={32} cfg={() => dendroCfg(true)} />
      <ChartBox x={72} y={537} w={32} h={140} cfg={() => dendroCfg(false)} />
      <ChartBox x={104 - D_PAD_LEFT} y={518} w={438 + D_PAD_LEFT} h={223} cfg={dHeatCfg} />
      <Txt x={545} y={519} s="Variance" size={11} bold />
      <Box x={544} y={528} w={14} h={63} bg="linear-gradient(to top, #FFFFFF, #0B640B)" />
      {D_VAR_TICKS.map((t, i) => <Txt key={'v' + t} x={562} y={531 + i * 15} s={t} size={11} color="#4D4D4D" />)}
      <Txt x={545} y={611} s="Z-score" size={11} bold />
      <Box x={544} y={620} w={14} h={80} bg="linear-gradient(to top, #1A1AF0, #FFFFFF 50%, #F01A10)" />
      {D_Z_TICKS.map((t, i) => <Txt key={'z' + t} x={562} y={623 + i * 37} s={t} size={11} color="#4D4D4D" />)}
    </>
  );
}

/* ============================ PANEL E ============================ */
const E_SERIES = [
  [{ d: E_DAR_STRAIN, c: 'Strain' }, { d: E_DAR_DS, c: 'Diet+strain' }],
  [{ d: E_DHAR_STRAIN, c: 'Strain' }, { d: E_DHAR_DIET, c: 'Diet' }, { d: E_DHAR_DS, c: 'Diet+strain' }],
  [{ d: E_DBR_STRAIN, c: 'Strain' }, { d: E_DBR_DS, c: 'Diet+strain' }],
];
const E_TOPS = [63, 258, 453];
function eCfg(i: number) {
  const bottom = i === 2;
  return {
    type: 'line',
    data: {
      datasets: E_SERIES[i].map((s) => ({
        data: s.d.map(([x, y]) => ({ x, y })), borderColor: E_COLORS[s.c], borderWidth: 1.7, pointRadius: 0, tension: 0,
      })),
    },
    options: {
      layout: { padding: { top: 6, bottom: bottom ? 0 : 6, left: 0, right: 0 } },
      scales: {
        x: {
          type: 'linear', min: 0, max: 1, offset: false,
          afterBuildTicks: (s: any) => { s.ticks = E_X_GRID.map((v) => ({ value: v })); },
          grid: {
            color: (c: any) => (c.tick && isMult(c.tick.value, 0.5) ? '#E3E3E3' : '#F2F2F2'), lineWidth: 0.9,
            drawTicks: bottom, tickLength: 3, tickColor: (c: any) => (c.tick && isMult(c.tick.value, 0.5) ? '#333' : 'rgba(0,0,0,0)'),
          },
          border: { display: false },
          ticks: { display: bottom, autoSkip: false, minRotation: 45, maxRotation: 45, padding: 1, font: { size: 11 }, color: '#4D4D4D', callback: (v: number) => E_X_LABELS[E_X_GRID.indexOf(v)] || '' },
          afterFit: fixAxis(bottom ? 36 : 0),
        },
        y: {
          type: 'linear', min: 0, max: 1,
          afterBuildTicks: (s: any) => { s.ticks = E_Y_GRID.map((v) => ({ value: v })); },
          grid: {
            color: (c: any) => (c.tick && isMult(c.tick.value, 0.25) ? '#E3E3E3' : '#F2F2F2'), lineWidth: 0.9,
            drawTicks: true, tickLength: 3, tickColor: (c: any) => (c.tick && isMult(c.tick.value, 0.25) ? '#333' : 'rgba(0,0,0,0)'),
          },
          border: { display: false },
          ticks: { autoSkip: false, padding: 2, font: { size: 11 }, color: '#4D4D4D', callback: (v: number) => (isMult(v, 0.25) ? v.toFixed(2) : '') },
          afterFit: fixAxis(51),
        },
      },
      plugins: { frame: { color: '#A0A0A0', width: 1 } },
    },
    plugins: [framePlugin],
  };
}
function PanelE() {
  return (
    <>
      <Txt x={991} y={45} s="E" size={22} bold color="#000" />
      {E_TITLES.map((t, i) => (
        <React.Fragment key={t}>
          <Txt x={1125} y={E_TOPS[i] - 9} s={t} size={10.5} bold align="center" />
          <ChartBox x={990} y={E_TOPS[i] - 6} w={220} h={i === 2 ? 6 + 166 + 36 : 179} cfg={() => eCfg(i)} />
        </React.Fragment>
      ))}
      <Txt x={1003} y={340} s="Fraction of genes with correlating region" size={11} bold align="center" rot={-90} />
      <Txt x={1125} y={662} s="Distance gene start" size={11} bold align="center" />
      <Txt x={1018} y={704} s="DEG-class" size={14} bold />
      <Box x={1096} y={695} w={16} h={2} bg={E_COLORS.Diet} />
      <Txt x={1120} y={696} s="Diet" size={10.5} color="#333" />
      <Box x={1096} y={710} w={16} h={2} bg={E_COLORS['Diet+strain']} />
      <Txt x={1120} y={711} s="Diet+strain" size={10.5} color="#333" />
      <Box x={1181} y={695} w={16} h={2} bg={E_COLORS.Strain} />
      <Txt x={1204} y={696} s="Strain" size={10.5} color="#333" />
    </>
  );
}

export default function App() {
  return (
    <div style={{ position: 'fixed', left: 0, top: 0, width: 1258, height: 750, background: '#FFFFFF', overflow: 'hidden', fontFamily: FONT }}>
      <PanelA />
      <PanelB />
      <PanelC />
      <PanelD />
      <PanelE />
    </div>
  );
}
